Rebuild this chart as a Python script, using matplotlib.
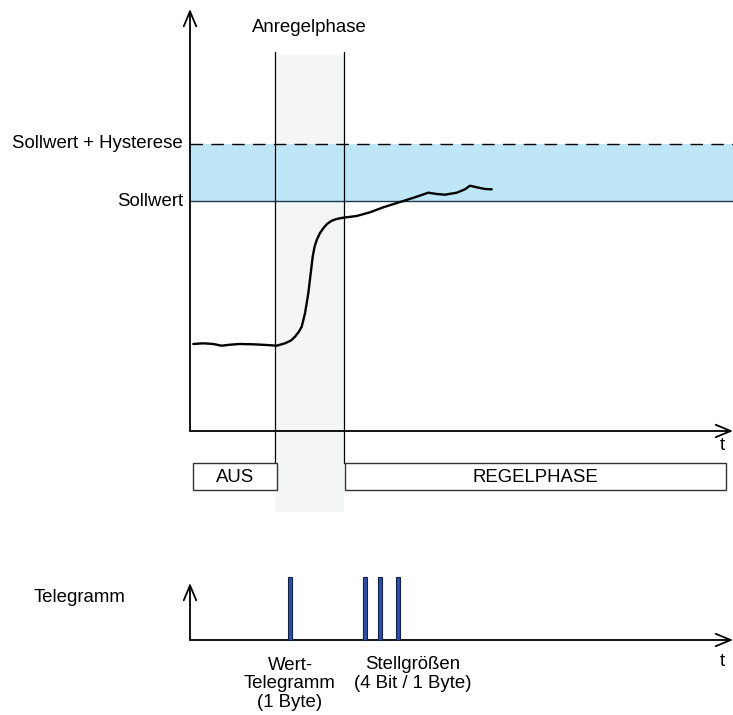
import matplotlib.pyplot as plt
from matplotlib.patches import Rectangle

plt.rcParams['font.family'] = ['Liberation Sans', 'DejaVu Sans']

# chart coordinates (drawing units, y grows downwards)
axis_x0 = 190
axis_top_y = 431
axis_bot_y = 640
sollwert = 201
hysterese = 144
phase_start = 275
phase_end = 344

curve_x = [193.3, 203.3, 213.3, 221.7, 230, 240, 253.3, 266.7, 276.7, 285, 291, 295, 299,
           301.7, 305, 308.3, 310.7, 312.7, 314.5, 316.7, 320, 323.3, 327, 331.7, 336, 340,
           344, 356.7, 370, 383.3, 403.3, 416.7, 428.3, 436.7, 445, 456.7, 465, 470, 476.7,
           485, 491.7]
curve_y = [344, 343.3, 344, 345.7, 344.7, 344, 344.3, 345, 345.7, 343.3, 340.5, 336.7, 331.5,
           326.7, 313.3, 293.3, 273.3, 256.7, 247, 240, 233, 228.3, 224, 220.7, 219.2, 218.3,
           217.6, 216, 212.3, 207.3, 201, 196.7, 192.7, 194, 194.7, 192.7, 189.3, 185.7, 187.3,
           189, 189.3]

# telegrams
telegram_x = [290.3, 365.3, 380, 398]
telegram_top = 577

phase_boxes = [("AUS", 193, 277), ("REGELPHASE", 345, 726)]

fig = plt.figure(figsize=(7.33, 7.15), dpi=100)
ax = fig.add_axes([0, 0, 1, 1])
ax.set_xlim(0, 733)
ax.set_ylim(715, 0)
ax.axis('off')

fs = 13.4

# grey phase band
ax.add_patch(Rectangle((phase_start, 55), phase_end - phase_start, 512 - 55,
                       facecolor='#f4f5f5', edgecolor='none', zorder=0))
# hysteresis band
ax.add_patch(Rectangle((axis_x0, hysterese), 733 - axis_x0, sollwert - hysterese,
                       facecolor='#bfe6f7', edgecolor='none', zorder=1))
ax.plot([axis_x0, 733], [hysterese, hysterese], color='black', lw=1.0, dashes=(9, 6), zorder=2)
ax.plot([axis_x0, 733], [sollwert, sollwert], color='#1a3a4a', lw=1.0, zorder=2)

# phase borders
for xv in (phase_start, phase_end):
    ax.plot([xv, xv], [52, 463], color='black', lw=0.9, zorder=3)
ax.text((phase_start + phase_end) / 2, 28, "Anregelphase", ha='center', va='center', fontsize=fs)

# axis arrows
arrow = dict(arrowstyle='->,head_length=0.6,head_width=0.25', color='black', lw=1.3,
             mutation_scale=18, shrinkA=0, shrinkB=0)

# upper axes
ax.annotate("", xy=(axis_x0, 9), xytext=(axis_x0, axis_top_y), arrowprops=arrow, zorder=4)
ax.annotate("", xy=(733, axis_top_y), xytext=(axis_x0, axis_top_y), arrowprops=arrow, zorder=4)
ax.text(722, 445, "t", ha='center', va='center', fontsize=fs)

ax.text(183, hysterese, "Sollwert + Hysterese", ha='right', va='center', fontsize=fs)
ax.text(183, sollwert, "Sollwert", ha='right', va='center', fontsize=fs)

# controlled value
ax.plot(curve_x, curve_y, color='black', lw=1.7, zorder=5, solid_capstyle='round',
        solid_joinstyle='round')

# phase boxes
for name, x0, x1 in phase_boxes:
    ax.add_patch(Rectangle((x0, 463), x1 - x0, 27, facecolor='white', edgecolor='#333333',
                           lw=1.0, zorder=3))
    ax.text((x0 + x1) / 2, 477, name, ha='center', va='center', fontsize=fs, zorder=4)

# lower axes
ax.annotate("", xy=(axis_x0, 583), xytext=(axis_x0, axis_bot_y), arrowprops=arrow, zorder=4)
ax.annotate("", xy=(733, axis_bot_y), xytext=(axis_x0, axis_bot_y), arrowprops=arrow, zorder=4)
ax.text(722, 661, "t", ha='center', va='center', fontsize=fs)
ax.text(80, 598, "Telegramm", ha='center', va='center', fontsize=fs)

ax.bar(telegram_x, [axis_bot_y - telegram_top] * len(telegram_x), bottom=telegram_top, width=4,
       color='#2f4fa0', edgecolor='#13214d', lw=0.8, zorder=5)

ax.text(290, 684, "Wert-\nTelegramm\n(1 Byte)", ha='center', va='center', fontsize=fs,
        linespacing=1.12)
ax.text(413, 674, "Stellgrößen\n(4 Bit / 1 Byte)", ha='center', va='center', fontsize=fs,
        linespacing=1.12)

fig.savefig("out.png", dpi=100)
